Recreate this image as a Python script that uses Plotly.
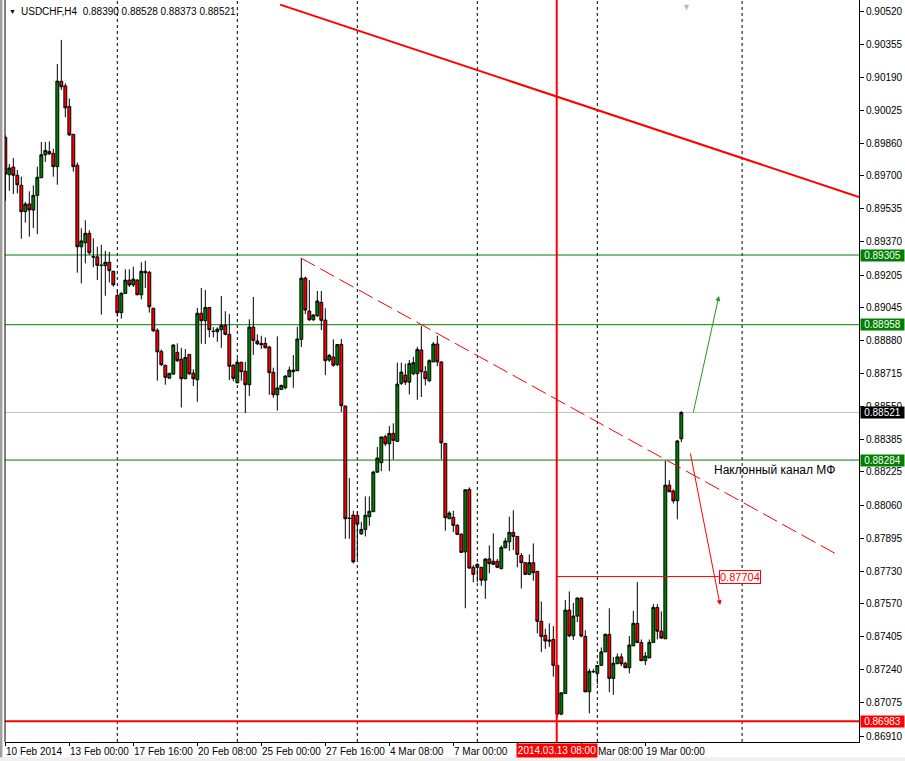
import plotly.graph_objects as go

# ---- OHLC data (USDCHF H4) ----
opens = [0.89891,0.89705,0.89743,0.89702,0.89652,0.89521,0.89559,0.89529,0.89602,0.89690,
         0.89804,0.89821,0.89811,0.89745,0.90170,0.90147,0.90045,0.89906,0.89752,0.89346,
         0.89366,0.89413,0.89297,0.89296,0.89255,0.89252,0.89269,0.89224,0.89104,0.89018,
         0.89114,0.89180,0.89156,0.89180,0.89107,0.89224,0.89219,0.89040,0.88930,0.88825,
         0.88756,0.88692,0.88712,0.88820,0.88786,0.88689,0.88810,0.88717,0.88684,0.89015,
         0.88978,0.89044,0.88926,0.88923,0.88933,0.88955,0.88910,0.88756,0.88669,0.88771,
         0.88726,0.88659,0.88946,0.88877,0.88865,0.88865,0.88847,0.88721,0.88609,0.88636,
         0.88644,0.88699,0.88724,0.88729,0.88885,0.89190,0.89026,0.88983,0.89003,0.89069,
         0.88981,0.88782,0.88797,0.88759,0.88860,0.88553,0.87995,0.88010,0.88009,0.87917,
         0.87939,0.88002,0.88027,0.88224,0.88271,0.88400,0.88365,0.88417,0.88377,0.88666,
         0.88707,0.88672,0.88714,0.88714,0.88832,0.88724,0.88679,0.88773,0.88862,0.88772,
         0.88367,0.87992,0.87999,0.87959,0.87915,0.87827,0.88138,0.87750,0.87750,0.87750,
         0.87686,0.87792,0.87780,0.87780,0.87743,0.87847,0.87877,0.87924,0.87904,0.87809,
         0.87773,0.87715,0.87773,0.87730,0.87481,0.87411,0.87388,0.87391,0.87262,0.87019,
         0.87122,0.87537,0.87409,0.87507,0.87597,0.87406,0.87130,0.87230,0.87222,0.87262,
         0.87329,0.87416,0.87197,0.87270,0.87304,0.87272,0.87250,0.87359,0.87471,0.87376,
         0.87285,0.87299,0.87376,0.87550,0.87432,0.87394,0.88159,0.88130,0.88081,0.88390]
highs = [0.89901,0.89758,0.89788,0.89728,0.89695,0.89570,0.89622,0.89652,0.89745,0.89868,
         0.89868,0.89871,0.89834,0.90256,0.90376,0.90160,0.90085,0.89908,0.89765,0.89438,
         0.89478,0.89429,0.89388,0.89346,0.89356,0.89326,0.89320,0.89226,0.89131,0.89121,
         0.89234,0.89234,0.89247,0.89185,0.89269,0.89276,0.89226,0.89042,0.88940,0.88835,
         0.88758,0.88717,0.88860,0.88865,0.88843,0.88837,0.88812,0.88736,0.89041,0.89141,
         0.89131,0.89046,0.88946,0.88945,0.89101,0.89025,0.89011,0.88762,0.88791,0.88773,
         0.88773,0.88985,0.89096,0.88910,0.88903,0.88895,0.88853,0.88744,0.88900,0.88659,
         0.88707,0.88749,0.88807,0.88948,0.89290,0.89197,0.89180,0.89011,0.89126,0.89126,
         0.89040,0.88812,0.88885,0.88861,0.88887,0.88555,0.88194,0.88032,0.88029,0.87977,
         0.88103,0.88103,0.88231,0.88349,0.88400,0.88410,0.88453,0.88467,0.88769,0.88769,
         0.88764,0.88782,0.88798,0.88848,0.88951,0.88752,0.88786,0.88872,0.88903,0.88777,
         0.88369,0.88029,0.88032,0.87965,0.87919,0.88138,0.88148,0.87761,0.87770,0.87752,
         0.87796,0.87859,0.87919,0.87792,0.87859,0.87897,0.88002,0.88034,0.87906,0.87821,
         0.87775,0.87814,0.87869,0.87732,0.87580,0.87444,0.87471,0.87457,0.87264,0.87127,
         0.87587,0.87630,0.87573,0.87600,0.87600,0.87437,0.87245,0.87245,0.87262,0.87351,
         0.87421,0.87546,0.87304,0.87321,0.87321,0.87280,0.87408,0.87534,0.87676,0.87391,
         0.87329,0.87391,0.87567,0.87567,0.87531,0.88281,0.88184,0.88138,0.88384,0.88528]
lows = [0.89575,0.89625,0.89609,0.89612,0.89386,0.89466,0.89396,0.89439,0.89409,0.89688,
        0.89768,0.89803,0.89695,0.89655,0.90127,0.89991,0.89898,0.89720,0.89217,0.89164,
        0.89264,0.89305,0.89244,0.89180,0.89008,0.89102,0.89169,0.89147,0.88998,0.88988,
        0.89113,0.89146,0.89146,0.89105,0.89084,0.89141,0.89018,0.88921,0.88679,0.88752,
        0.88659,0.88689,0.88709,0.88772,0.88546,0.88687,0.88707,0.88653,0.88574,0.88863,
        0.88862,0.88895,0.88895,0.88873,0.88843,0.88905,0.88682,0.88676,0.88666,0.88679,
        0.88518,0.88603,0.88808,0.88857,0.88837,0.88841,0.88609,0.88594,0.88530,0.88633,
        0.88636,0.88697,0.88644,0.88727,0.88847,0.89011,0.88976,0.88976,0.88996,0.88931,
        0.88707,0.88772,0.88749,0.88752,0.88523,0.87892,0.87892,0.87770,0.87791,0.87911,
        0.87904,0.87957,0.88025,0.88219,0.88229,0.88354,0.88229,0.88287,0.88375,0.88658,
        0.88658,0.88611,0.88707,0.88584,0.88598,0.88656,0.88672,0.88772,0.88752,0.88287,
        0.87932,0.87990,0.87925,0.87911,0.87822,0.87546,0.87744,0.87675,0.87676,0.87658,
        0.87593,0.87720,0.87761,0.87746,0.87741,0.87845,0.87832,0.87836,0.87750,0.87645,
        0.87711,0.87711,0.87683,0.87421,0.87328,0.87344,0.87354,0.87205,0.87005,0.87014,
        0.87119,0.87402,0.87388,0.87477,0.87402,0.87128,0.87023,0.87223,0.87168,0.87258,
        0.87328,0.87128,0.87115,0.87268,0.87258,0.87248,0.87222,0.87358,0.87373,0.87283,
        0.87263,0.87298,0.87373,0.87391,0.87393,0.87393,0.88125,0.88068,0.87989,0.88373]
closes = [0.89708,0.89738,0.89702,0.89655,0.89521,0.89559,0.89529,0.89602,0.89692,0.89804,
          0.89826,0.89809,0.89745,0.90171,0.90143,0.90038,0.89903,0.89745,0.89346,0.89375,
          0.89413,0.89316,0.89295,0.89254,0.89253,0.89269,0.89227,0.89157,0.89018,0.89114,
          0.89180,0.89156,0.89185,0.89107,0.89224,0.89217,0.89047,0.88928,0.88823,0.88759,
          0.88696,0.88716,0.88857,0.88779,0.88689,0.88795,0.88714,0.88689,0.89015,0.88978,
          0.89044,0.88933,0.88924,0.88936,0.88955,0.88910,0.88751,0.88691,0.88771,0.88724,
          0.88659,0.88946,0.88880,0.88863,0.88858,0.88843,0.88719,0.88609,0.88643,0.88656,
          0.88702,0.88732,0.88732,0.88887,0.89190,0.89031,0.88983,0.89006,0.89076,0.88980,
          0.88779,0.88805,0.88756,0.88859,0.88555,0.87992,0.87993,0.87777,0.87965,0.87939,
          0.88009,0.88029,0.88224,0.88294,0.88399,0.88365,0.88417,0.88382,0.88662,0.88722,
          0.88672,0.88764,0.88769,0.88835,0.88724,0.88689,0.88779,0.88862,0.88773,0.88370,
          0.87997,0.88020,0.87959,0.87914,0.87824,0.88136,0.87746,0.87715,0.87765,0.87686,
          0.87791,0.87768,0.87765,0.87750,0.87849,0.87881,0.87924,0.87904,0.87814,0.87773,
          0.87715,0.87773,0.87723,0.87481,0.87406,0.87383,0.87383,0.87262,0.87019,0.87125,
          0.87537,0.87409,0.87507,0.87597,0.87408,0.87130,0.87232,0.87231,0.87261,0.87329,
          0.87416,0.87197,0.87272,0.87304,0.87270,0.87250,0.87363,0.87471,0.87376,0.87285,
          0.87308,0.87376,0.87550,0.87432,0.87398,0.88159,0.88126,0.88081,0.88379,0.88521]
bars = list(range(len(opens)))

price_ticks = [0.90520, 0.90355, 0.90190, 0.90025, 0.89860, 0.89700, 0.89535, 0.89370,
               0.89205, 0.89045, 0.88880, 0.88715, 0.88550, 0.88385, 0.88225, 0.88060,
               0.87895, 0.87730, 0.87570, 0.87405, 0.87240, 0.87075, 0.86910]
# visible time labels (the one under the red event box is hidden, as on the terminal)
time_labels = ["10 Feb 2014", "13 Feb 00:00", "17 Feb 16:00", "20 Feb 08:00", "25 Feb 00:00",
               "27 Feb 16:00", "4 Mar 08:00", "7 Mar 00:00", "Mar 08:00", "19 Mar 00:00"]
time_label_bars = [0, 16, 32, 48, 64, 80, 96, 112, 147.9, 160]
tick_bars = [0, 16, 32, 48, 64, 80, 96, 112, 128, 144, 160]
grid_bars = [28, 58, 88, 118, 148, 184.2]

green_levels = [0.89305, 0.88958, 0.88284]
support_level = 0.86983
bid_price = 0.88521
target_price = 0.87704
event_bar = 137.85
event_label = "2014.03.13 08:00"
channel_label = "Наклонный канал МФ"
title_text = "USDCHF,H4  0.88390 0.88528 0.88373 0.88521"

FONT = "Liberation Sans, Arial, sans-serif"

fig = go.Figure()
fig.add_trace(go.Candlestick(
    x=bars, open=opens, high=highs, low=lows, close=closes,
    increasing=dict(fillcolor="#008000", line=dict(color="black", width=1)),
    decreasing=dict(fillcolor="#ff0000", line=dict(color="black", width=1)),
    whiskerwidth=0, hoverinfo="skip",
))

shapes = []
for g in grid_bars:
    shapes.append(dict(type="line", xref="x", yref="paper", x0=g, x1=g, y0=0, y1=1,
                       line=dict(color="black", width=1, dash="3px,3px"), layer="below"))
for lv in green_levels:
    shapes.append(dict(type="line", xref="paper", yref="y", x0=0, x1=1, y0=lv, y1=lv,
                       line=dict(color="#008000", width=1), layer="below"))
shapes.append(dict(type="line", xref="paper", yref="y", x0=0, x1=1, y0=bid_price, y1=bid_price,
                   line=dict(color="#c0c0c0", width=1), layer="below"))
shapes.append(dict(type="line", xref="paper", yref="y", x0=0, x1=1, y0=support_level, y1=support_level,
                   line=dict(color="#ff0000", width=2)))
shapes.append(dict(type="line", xref="x", yref="paper", x0=event_bar, x1=event_bar, y0=0, y1=1,
                   line=dict(color="#ff0000", width=2)))
shapes.append(dict(type="line", xref="x", yref="y", x0=68.7, y0=0.90552, x1=213.4, y1=0.89594,
                   line=dict(color="#ff0000", width=2)))
shapes.append(dict(type="line", xref="x", yref="y", x0=73.9, y0=0.89290, x1=208.2, y1=0.87811,
                   line=dict(color="#ff0000", width=1, dash="16px,6px")))
shapes.append(dict(type="line", xref="x", yref="y", x0=event_bar, y0=target_price, x1=178.4, y1=target_price,
                   line=dict(color="#ff0000", width=1)))
shapes.append(dict(type="line", xref="paper", yref="paper", x0=0, x1=0, y0=0, y1=1,
                   line=dict(color="black", width=1)))
shapes.append(dict(type="rect", xref="paper", yref="paper", x0=-0.0059, x1=-0.0030, y0=-0.03, y1=1,
                   line=dict(width=0), fillcolor="#a0a0a0"))
shapes.append(dict(type="rect", xref="paper", yref="paper", x0=-0.01, x1=1.06, y0=-0.027, y1=-0.0205,
                   line=dict(width=0), fillcolor="#f0f0f0"))

annotations = []
annotations.append(dict(xref="paper", yref="paper", x=0, y=1, xanchor="left", yanchor="top",
                        xshift=2, yshift=-6, text="▼", showarrow=False,
                        font=dict(family=FONT, size=7, color="black")))
annotations.append(dict(xref="paper", yref="paper", x=0, y=1, xanchor="left", yanchor="top",
                        xshift=14, yshift=-4, text=title_text, showarrow=False,
                        font=dict(family=FONT, size=10, color="black")))
annotations.append(dict(xref="x", yref="paper", x=170.2, y=1, xanchor="center", yanchor="top",
                        yshift=0, text="▼", showarrow=False,
                        font=dict(family=FONT, size=9, color="#b8b8b8")))
for b, t in zip(time_label_bars, time_labels):
    annotations.append(dict(xref="x", yref="paper", x=b, y=0, xanchor="left", yanchor="top",
                            xshift=-1, yshift=-2, text=t, showarrow=False,
                            font=dict(family=FONT, size=10, color="black")))
annotations.append(dict(xref="x", yref="paper", x=event_bar, y=0, xanchor="center", yanchor="top",
                        yshift=-1, text=event_label, showarrow=False, bgcolor="#ff0000",
                        borderpad=1, width=78,
                        font=dict(family=FONT, size=10, color="white")))
for lv in green_levels:
    annotations.append(dict(xref="paper", yref="y", x=1, y=lv, xanchor="left", yanchor="middle",
                            xshift=1, text=f"{lv:.5f}", showarrow=False, bgcolor="#008000",
                            borderpad=0, width=43,
                            font=dict(family=FONT, size=10, color="white")))
annotations.append(dict(xref="paper", yref="y", x=1, y=bid_price, xanchor="left", yanchor="middle",
                        xshift=1, text=f"{bid_price:.5f}", showarrow=False, bgcolor="black",
                        borderpad=0, width=43, font=dict(family=FONT, size=10, color="white")))
annotations.append(dict(xref="paper", yref="y", x=1, y=support_level, xanchor="left", yanchor="middle",
                        xshift=1, text=f"{support_level:.5f}", showarrow=False, bgcolor="#ff0000",
                        borderpad=0, width=43, font=dict(family=FONT, size=10, color="white")))
annotations.append(dict(xref="x", yref="y", x=183.7, y=target_price, xanchor="center", yanchor="middle",
                        text=f"{target_price:.5f}", showarrow=False, bgcolor="white",
                        bordercolor="#ff0000", borderwidth=1, borderpad=0,
                        font=dict(family=FONT, size=11, color="#ff0000")))
annotations.append(dict(xref="x", yref="y", x=176.7, y=0.88235, xanchor="left", yanchor="middle",
                        text=channel_label, showarrow=False,
                        font=dict(family=FONT, size=12, color="black")))
annotations.append(dict(xref="x", yref="y", axref="x", ayref="y", x=178.4, y=0.89101,
                        ax=171.9, ay=0.88513, text="", showarrow=True, arrowhead=2,
                        arrowsize=1, arrowwidth=1, arrowcolor="#1f9a1f", standoff=0))
annotations.append(dict(xref="x", yref="y", axref="x", ayref="y", x=178.7, y=0.87562,
                        ax=171.2, ay=0.88324, text="", showarrow=True, arrowhead=2,
                        arrowsize=1, arrowwidth=1, arrowcolor="#ff0000", standoff=0))

fig.update_layout(
    width=905, height=761,
    margin=dict(l=5, r=46, t=0, b=19, autoexpand=False),
    paper_bgcolor="white", plot_bgcolor="white",
    showlegend=False, hovermode=False,
    boxgap=0.28, boxgroupgap=0,
    shapes=shapes, annotations=annotations,
    xaxis=dict(range=[-0.08, 213.42], rangeslider=dict(visible=False), showgrid=False,
               zeroline=False, showline=True, linecolor="black", linewidth=1,
               tickmode="array", tickvals=tick_bars, ticks="outside", ticklen=3,
               tickcolor="black", showticklabels=False, fixedrange=True, automargin=False),
    yaxis=dict(range=[0.868802, 0.905748], side="right", showgrid=False, zeroline=False,
               showline=True, linecolor="black", linewidth=1,
               tickmode="array", tickvals=price_ticks,
               ticktext=[f"{p:.5f}" for p in price_ticks],
               ticks="outside", ticklen=4, tickcolor="black", automargin=False,
               tickfont=dict(family=FONT, size=10, color="black"), fixedrange=True),
)

fig.write_html("out.html", config={"displayModeBar": False},
               post_script="document.body.style.margin='0px';document.body.style.overflow='hidden';")
